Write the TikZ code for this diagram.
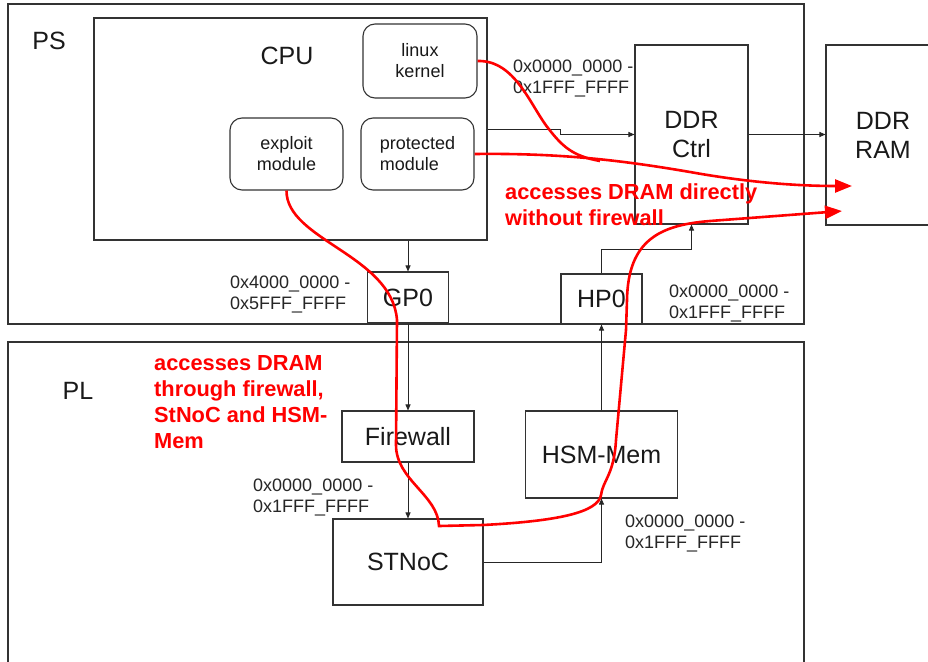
\documentclass[tikz,border=0pt]{standalone}
\usepackage{fontspec}
\setmainfont{Liberation Sans}
\usetikzlibrary{arrows.meta}
\begin{document}
\begin{tikzpicture}[x=1pt,y=-1pt,
  box/.style={draw=black!80,line width=1.1pt,fill=white,inner sep=0pt,align=center,text=black!90,font=\fontsize{25}{29}\selectfont},
  rbox/.style={box,rounded corners=12pt,font=\fontsize{18}{21}\selectfont},
  big/.style={inner sep=0pt,text=black!90,font=\fontsize{25}{29}\selectfont},
  addr/.style={inner sep=0pt,anchor=west,align=left,text=black!85,font=\fontsize{18}{21}\selectfont},
  redtxt/.style={inner sep=0pt,anchor=west,align=left,text=red,font=\bfseries\fontsize{21.8}{25.8}\selectfont},
  arr/.style={draw=black!85,line width=0.9pt,-{Triangle[length=6pt,width=5pt]}},
  redline/.style={draw=red,line width=2.6pt},
  redarr/.style={redline,-{Triangle[length=17pt,width=13pt]}}]
\useasboundingbox (0,0) rectangle (928,661);
% containers
\node[box,minimum width=796pt,minimum height=320pt] (ps) at (406,164) {};
\node[box,minimum width=796pt,minimum height=338pt] (pl) at (406,511) {};
\node[big] (pslbl) at (49,41) {PS};
\node[big] (pllbl) at (78,391) {PL};
% CPU
\node[box,minimum width=393pt,minimum height=222pt] (cpu) at (290.5,129) {};
\node[big] (cpulbl) at (287,56) {CPU};
\node[rbox,minimum width=114pt,minimum height=74pt] (kernel) at (420,61) {linux\\kernel};
\node[rbox,minimum width=113pt,minimum height=72pt] (exploit) at (286.5,154) {exploit\\module};
\node[rbox,minimum width=113pt,minimum height=72pt,align=left] (protected) at (417.5,154) {protected\\module};
% DDR
\node[box,minimum width=113pt,minimum height=179pt] (ddrc) at (691.5,134.5) {DDR\\Ctrl};
\node[box,minimum width=114pt,minimum height=180pt] (ddrram) at (883,135) {DDR\\RAM};
% ports
\node[box,minimum width=81pt,minimum height=51pt] (gp0) at (408,297.5) {GP0};
\node[box,minimum width=81pt,minimum height=50pt] (hp0) at (601.5,299) {HP0};
% PL blocks
\node[box,minimum width=132pt,minimum height=51pt] (fw) at (408,436.5) {Firewall};
\node[box,minimum width=150pt,minimum height=86pt] (stnoc) at (408,562) {STNoC};
\node[box,minimum width=152pt,minimum height=87pt] (hsm) at (601.5,454.5) {HSM-Mem};
% black connectors
\coordinate (j1) at (601.5,249);
\coordinate (j2) at (560,129);
\draw[arr] (gp0.north |- cpu.south) -- (gp0.north);
\draw[arr] (gp0.south) -- (fw.north);
\draw[arr] (fw.south) -- (stnoc.north);
\draw[arr] (stnoc.east) -| (hsm.south);
\draw[arr] (hsm.north) -- (hp0.south);
\draw[arr] (hp0.north) -- (hp0.north |- j1) -| (ddrc.south);
\draw[arr] (cpu.east |- j2) -- (j2) -- (j2 |- ddrc.west) -- (ddrc.west);
\draw[arr] (ddrc.east) -- (ddrc.east -| ddrram.west);
% address labels
\node[addr] (a1) at (513,78.5) {0x0000\_0000 -\\0x1FFF\_FFFF};
\node[addr] (a2) at (230,294.5) {0x4000\_0000 -\\0x5FFF\_FFFF};
\node[addr] (a3) at (669,303.5) {0x0000\_0000 -\\0x1FFF\_FFFF};
\node[addr] (a4) at (253,497) {0x0000\_0000 -\\0x1FFF\_FFFF};
\node[addr] (a5) at (625,533) {0x0000\_0000 -\\0x1FFF\_FFFF};
% red paths
\coordinate (tipA) at (852,186);
\coordinate (tipB) at (842,211);
\coordinate (merge) at (600,161);
\draw[redline] (kernel.east) .. controls (515,60) and (530,105) .. (548,128)
  .. controls (562,146) and (572,156) .. (merge);
\draw[redarr] (protected.east) .. controls (560,153) and (620,160) .. (690,172)
  .. controls (740,181) and (790,186) .. (tipA);
\draw[redarr] (exploit.south) .. controls (286,240) and (392,255) .. (397,320)
  -- (396,445) .. controls (396,480) and (438,495) .. (439,526)
  -- (483,525) .. controls (560,521) and (598,512) .. (601,495)
  .. controls (603,480) and (614,475) .. (616,440)
  -- (626,330) -- (627,300) .. controls (628,240) and (660,225) .. (710,221)
  -- (tipB);
% red texts
\node[redtxt] (rt1) at (505,205) {accesses DRAM directly\\without firewall};
\node[redtxt] (rt2) at (154,402) {accesses DRAM\\through firewall,\\StNoC and HSM-\\Mem};
\end{tikzpicture}
\end{document}
